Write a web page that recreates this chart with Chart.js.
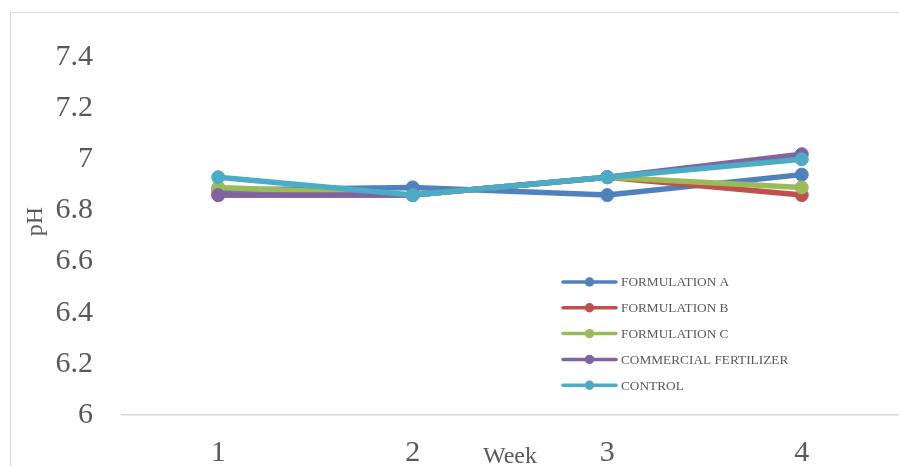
<!DOCTYPE html>
<html>
<head>
<meta charset="utf-8">
<script src="https://cdn.jsdelivr.net/npm/chart.js@4/dist/chart.umd.min.js"></script>
<style>
  html, body { margin: 0; padding: 0; background: #ffffff; }
  #wrap { position: relative; width: 899px; height: 466px; }
</style>
</head>
<body>
<div id="wrap"><canvas id="c" width="899" height="466"></canvas></div>
<script>
// Weekly soil pH readings per treatment
const weeks = ['1', '2', '3', '4'];
const formulationA = [6.88, 6.89, 6.86, 6.94];
const formulationB = [6.86, 6.86, 6.93, 6.86];
const formulationC = [6.89, 6.86, 6.93, 6.89];
const commercialFertilizer = [6.86, 6.86, 6.93, 7.02];
const control = [6.93, 6.86, 6.93, 7.00];
const seriesNames = ['FORMULATION A', 'FORMULATION B', 'FORMULATION C', 'COMMERCIAL FERTILIZER', 'CONTROL'];
const phTicks = [6, 6.2, 6.4, 6.6, 6.8, 7, 7.2, 7.4];
const phTickLabels = ['6', '6.2', '6.4', '6.6', '6.8', '7', '7.2', '7.4'];

const seriesValues = [formulationA, formulationB, formulationC, commercialFertilizer, control];
const seriesColors = ['#4F81BD', '#C0504D', '#9BBB59', '#8064A2', '#4BACC6'];
const textColor = '#595959';
const serif = "'Liberation Serif', 'Times New Roman', serif";

const datasets = seriesValues.map((vals, i) => ({
  label: seriesNames[i],
  data: vals,
  borderColor: seriesColors[i],
  backgroundColor: seriesColors[i],
  pointBackgroundColor: seriesColors[i],
  pointBorderColor: seriesColors[i],
  borderWidth: 5.5,
  pointRadius: 6.5,
  pointBorderWidth: 1,
  tension: 0,
  clip: false,
  // later series are painted over earlier ones
  order: seriesValues.length - i
}));

// Outer frame of the chart
const framePlugin = {
  id: 'frame',
  beforeDraw(chart) {
    const ctx = chart.ctx;
    ctx.save();
    ctx.fillStyle = '#ffffff';
    ctx.fillRect(0, 0, chart.width, chart.height);
    ctx.strokeStyle = '#d9d9d9';
    ctx.lineWidth = 1;
    ctx.strokeRect(10.5, 12.5, chart.width + 10, chart.height + 10);
    ctx.restore();
  }
};

// Axis titles: "pH" beside the value axis, "Week" between the category labels
const axisTitlePlugin = {
  id: 'axisTitles',
  afterDraw(chart) {
    const ctx = chart.ctx;
    const area = chart.chartArea;
    const xs = chart.scales.x;
    ctx.save();
    ctx.fillStyle = textColor;
    ctx.textAlign = 'center';
    ctx.textBaseline = 'middle';
    ctx.font = '24px ' + serif;
    const wx = (xs.getPixelForValue(1) + xs.getPixelForValue(2)) / 2;
    ctx.fillText('Week', wx, area.bottom + 42);
    ctx.translate(35, area.top + (area.bottom - area.top) * 0.46);
    ctx.rotate(-Math.PI / 2);
    ctx.fillText('pH', 0, 1);
    ctx.restore();
  }
};

// Legend placed inside the plot area, lower right
const insideLegendPlugin = {
  id: 'insideLegend',
  afterDraw(chart) {
    const ctx = chart.ctx;
    const area = chart.chartArea;
    const x0 = area.left + 442;
    const y0 = area.top + 225;
    const rowGap = 25.8;
    ctx.save();
    ctx.font = '13.3px ' + serif;
    ctx.textBaseline = 'middle';
    ctx.textAlign = 'left';
    chart.data.datasets.forEach((ds, i) => {
      const y = y0 + i * rowGap;
      ctx.strokeStyle = ds.borderColor;
      ctx.lineWidth = 3.5;
      ctx.lineCap = 'round';
      ctx.beginPath();
      ctx.moveTo(x0, y);
      ctx.lineTo(x0 + 53, y);
      ctx.stroke();
      ctx.fillStyle = ds.borderColor;
      ctx.beginPath();
      ctx.arc(x0 + 26.5, y, 4.7, 0, Math.PI * 2);
      ctx.fill();
      ctx.fillStyle = textColor;
      ctx.fillText(ds.label, x0 + 58, y + 1);
    });
    ctx.restore();
  }
};

new Chart(document.getElementById('c'), {
  type: 'line',
  data: { labels: weeks, datasets },
  plugins: [framePlugin, axisTitlePlugin, insideLegendPlugin],
  options: {
    responsive: false,
    animation: false,
    devicePixelRatio: 1,
    layout: { autoPadding: false, padding: { top: 57, right: 0, left: 0, bottom: 0 } },
    plugins: {
      legend: { display: false },
      tooltip: { enabled: false }
    },
    scales: {
      x: {
        type: 'category',
        offset: true,
        grid: { display: false, drawTicks: false },
        border: { display: false },
        ticks: {
          color: textColor,
          font: { family: serif, size: 30 },
          padding: 20,
          maxRotation: 0
        },
        afterFit(scale) {
          scale.height = 51;
          scale.paddingLeft = 0;
          scale.paddingRight = 0;
        }
      },
      y: {
        min: 6,
        max: 7.4,
        grid: {
          drawTicks: false,
          color: ctx => (ctx.tick && ctx.tick.value === phTicks[0]) ? '#d9d9d9' : 'rgba(0,0,0,0)',
          lineWidth: 1.5
        },
        border: { display: false },
        afterBuildTicks(scale) {
          scale.ticks = phTicks.map(v => ({ value: v }));
        },
        ticks: {
          color: textColor,
          font: { family: serif, size: 30 },
          padding: 28,
          callback: (v, idx) => phTickLabels[idx]
        },
        afterFit(scale) { scale.width = 121; }
      }
    }
  }
});
</script>
</body>
</html>
